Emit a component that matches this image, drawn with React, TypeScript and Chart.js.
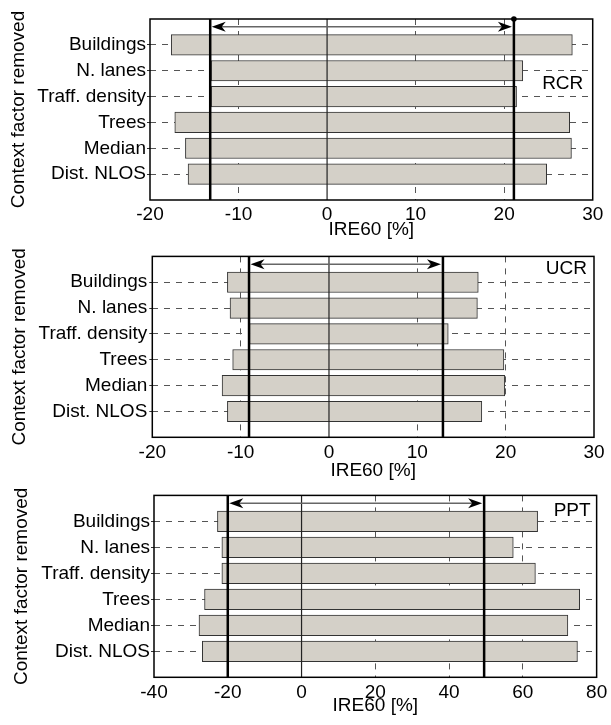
import React, { useEffect, useRef } from 'react';
import { Chart, registerables } from 'chart.js';

Chart.register(...registerables);

// ---- data ----
const categories = ['Buildings', 'N. lanes', 'Traff. density', 'Trees', 'Median', 'Dist. NLOS'];

const rcrLow = [-17.6, -13.1, -13.1, -17.2, -16.0, -15.7];
const rcrHigh = [27.7, 22.1, 21.4, 27.4, 27.6, 24.8];
const rcrRef = [-13.2, 21.1];

const ucrLow = [-11.5, -11.2, -9.0, -10.9, -12.1, -11.5];
const ucrHigh = [16.9, 16.8, 13.5, 19.8, 19.9, 17.3];
const ucrRef = [-9.05, 12.9];

const pptLow = [-22.8, -21.6, -21.6, -26.3, -27.8, -26.9];
const pptHigh = [64.0, 57.4, 63.4, 75.4, 72.2, 74.8];
const pptRef = [-20.0, 49.5];

const xTitle = 'IRE60 [%]';
const yTitle = 'Context factor removed';

const FONT_FAMILY = '"Liberation Sans", Arial, Helvetica, sans-serif';
const FONT = { family: FONT_FAMILY, size: 19 };

const overlayPlugin = {
  id: 'overlay',
  afterDatasetsDraw(chart: any, _args: any, opts: any) {
    const { ctx, chartArea, scales } = chart;
    const { top, bottom } = chartArea;
    const x = scales.x;
    const y = scales.y;
    ctx.save();
    // zero line
    const x0 = x.getPixelForValue(0);
    ctx.strokeStyle = '#222';
    ctx.lineWidth = 1.2;
    ctx.beginPath();
    ctx.moveTo(x0, top);
    ctx.lineTo(x0, bottom);
    ctx.stroke();
    // reference lines
    const xl = x.getPixelForValue(opts.ref[0]);
    const xr = x.getPixelForValue(opts.ref[1]);
    ctx.strokeStyle = '#000';
    ctx.lineWidth = 2.5;
    ctx.beginPath();
    ctx.moveTo(xl, top);
    ctx.lineTo(xl, bottom);
    ctx.moveTo(xr, top);
    ctx.lineTo(xr, bottom);
    ctx.stroke();
    // arrow
    const ay = y.getPixelForValue(opts.arrowY);
    ctx.strokeStyle = '#666';
    ctx.lineWidth = 1.5;
    ctx.beginPath();
    ctx.moveTo(xl + 8, ay);
    ctx.lineTo(xr - 8, ay);
    ctx.stroke();
    ctx.fillStyle = '#000';
    const head = (tx: number, dir: number) => {
      ctx.beginPath();
      ctx.moveTo(tx, ay);
      ctx.lineTo(tx + dir * 14, ay - 5);
      ctx.lineTo(tx + dir * 10, ay);
      ctx.lineTo(tx + dir * 14, ay + 5);
      ctx.closePath();
      ctx.fill();
    };
    head(xl + 1.5, 1);
    head(xr - 2, -1);
    ctx.restore();
  },
  afterDraw(chart: any, _args: any, opts: any) {
    const { ctx, chartArea, scales } = chart;
    const { left, right, top, bottom } = chartArea;
    ctx.save();
    ctx.strokeStyle = '#000';
    ctx.lineWidth = 1.5;
    ctx.strokeRect(left, top, right - left, bottom - top);
    ctx.fillStyle = '#000';
    ctx.font = `${FONT.size}px ${FONT_FAMILY}`;
    ctx.textAlign = 'right';
    ctx.textBaseline = 'middle';
    ctx.fillText(opts.tag, right - opts.tagRight, scales.y.getPixelForValue(opts.tagY));
    if (opts.dot) {
      const xr = scales.x.getPixelForValue(opts.ref[1]);
      ctx.beginPath();
      ctx.arc(xr, top, 2.8, 0, Math.PI * 2);
      ctx.fill();
    }
    ctx.restore();
  },
};

type PanelProps = {
  low: number[];
  high: number[];
  refs: number[];
  xMin: number;
  xMax: number;
  xStep: number;
  tag: string;
  height: number;
  padTop: number;
  plotLeft: number;
  padRight: number;
  xAxisHeight: number;
  titlePadBottom: number;
  xTickPad: number;
  yTickPad: number;
  yTitlePad: number;
  tagY: number;
  tagRight: number;
  dot: boolean;
};

function Panel(p: PanelProps) {
  const ref = useRef<HTMLCanvasElement | null>(null);
  useEffect(() => {
    if (!ref.current) return;
    const data = categories.map((_c, i) => ({ y: i, x: [p.low[i], p.high[i]] }));
    const chart = new Chart(ref.current, {
      type: 'bar',
      data: {
        datasets: [
          {
            data: data as any,
            backgroundColor: '#d4d0c8',
            borderColor: '#333',
            borderWidth: 1,
            borderSkipped: false,
            barThickness: 20.5,
          },
        ],
      },
      options: {
        indexAxis: 'y',
        responsive: false,
        animation: false,
        layout: { padding: { top: p.padTop, right: p.padRight, left: 0, bottom: 0 } },
        plugins: {
          legend: { display: false },
          tooltip: { enabled: false },
          overlay: {
            ref: p.refs,
            arrowY: -0.7,
            tag: p.tag,
            tagY: p.tagY,
            tagRight: p.tagRight,
            dot: p.dot,
          },
        } as any,
        scales: {
          x: {
            type: 'linear',
            min: p.xMin,
            max: p.xMax,
            offset: false,
            afterFit: (s: any) => {
              s.height = p.xAxisHeight;
            },
            ticks: { stepSize: p.xStep, padding: p.xTickPad, color: '#000', font: FONT },
            grid: {
              drawTicks: false,
              offset: false,
              lineWidth: 1,
              color: (c: any) =>
                c.tick && (c.tick.value === p.xMin || c.tick.value === p.xMax || c.tick.value === 0)
                  ? 'rgba(0,0,0,0)'
                  : '#555',
            },
            border: { display: false, dash: [6, 6] },
            title: {
              display: true,
              text: xTitle,
              color: '#000',
              font: FONT,
              padding: { top: 0, bottom: p.titlePadBottom },
            },
          },
          y: {
            type: 'linear',
            min: -1,
            max: 6,
            reverse: true,
            offset: false,
            afterFit: (s: any) => {
              s.width = p.plotLeft;
            },
            ticks: {
              stepSize: 1,
              autoSkip: false,
              padding: p.yTickPad - 3,
              color: '#000',
              font: FONT,
              callback: (v: any) => {
                const i = Number(v);
                return Number.isInteger(i) && i >= 0 && i < categories.length ? categories[i] : null;
              },
            },
            grid: {
              drawTicks: true,
              tickLength: 3,
              tickColor: '#333',
              offset: false,
              lineWidth: 1,
              color: '#555',
            },
            border: { display: false, dash: [6, 6] },
            title: {
              display: true,
              text: yTitle,
              color: '#000',
              font: FONT,
              padding: { top: p.yTitlePad, bottom: 0 },
            },
          },
        },
      },
      plugins: [overlayPlugin as any],
    });
    return () => chart.destroy();
  }, []);
  return <canvas ref={ref} width={611} height={p.height} style={{ display: 'block' }} />;
}

export default function App() {
  useEffect(() => {
    document.body.style.margin = '0';
  }, []);
  return (
    <div style={{ width: 611, height: 725, background: '#fff' }}>
      <Panel
        low={rcrLow}
        high={rcrHigh}
        refs={rcrRef}
        xMin={-20}
        xMax={30}
        xStep={10}
        tag="RCR"
        height={243}
        padTop={19}
        plotLeft={150}
        padRight={18.3}
        xAxisHeight={43}
        titlePadBottom={1.6}
        xTickPad={3}
        yTickPad={4}
        yTitlePad={7}
        tagY={1.5}
        tagRight={9.4}
        dot={true}
      />
      <Panel
        low={ucrLow}
        high={ucrHigh}
        refs={ucrRef}
        xMin={-20}
        xMax={30}
        xStep={10}
        tag="UCR"
        height={240}
        padTop={12}
        plotLeft={152.3}
        padRight={17}
        xAxisHeight={45.7}
        titlePadBottom={0.6}
        xTickPad={4.3}
        yTickPad={5}
        yTitlePad={8.7}
        tagY={-0.54}
        tagRight={7}
        dot={false}
      />
      <Panel
        low={pptLow}
        high={pptHigh}
        refs={pptRef}
        xMin={-40}
        xMax={80}
        xStep={20}
        tag="PPT"
        height={242}
        padTop={12}
        plotLeft={154}
        padRight={12.3}
        xAxisHeight={47.7}
        titlePadBottom={8.1}
        xTickPad={3.8}
        yTickPad={4}
        yTitlePad={10}
        tagY={-0.42}
        tagRight={6}
        dot={false}
      />
    </div>
  );
}
